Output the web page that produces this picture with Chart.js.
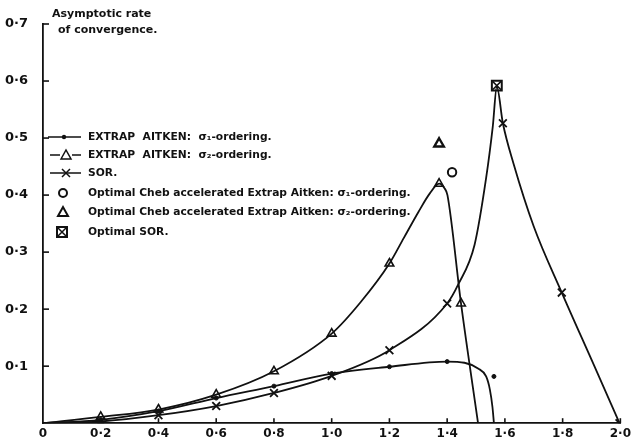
<!DOCTYPE html>
<html>
<head>
<meta charset="utf-8">
<script src="https://cdn.jsdelivr.net/npm/chart.js@4/dist/chart.umd.min.js"></script>
<style>
  html, body { margin: 0; padding: 0; background: #fff; }
  #wrap { width: 634px; height: 446px; position: relative; }
</style>
</head>
<body>
<div id="wrap"><canvas id="c" width="634" height="446"></canvas></div>
<script>
// ---- tick labels ----
const xTickLabels = ['0', '0·2', '0·4', '0·6', '0·8', '1·0', '1·2', '1·4', '1·6', '1·8', '2·0'];
const yTickLabels = ['', '0·1', '0·2', '0·3', '0·4', '0·5', '0·6', '0·7'];

// ---- Extrap Aitken, sigma1-ordering (curve as read, and its marked points) ----
const aitken1CurveX = [0, 0.2, 0.4, 0.6, 0.8, 1.0, 1.2, 1.4, 1.46, 1.507, 1.535, 1.548, 1.557, 1.562];
const aitken1CurveY = [0, 0.006, 0.021, 0.044, 0.065, 0.087, 0.099, 0.108, 0.106, 0.096, 0.082, 0.059, 0.028, 0];
const aitken1MarkX = [0.2, 0.4, 0.6, 0.8, 1.0, 1.2, 1.4];
const aitken1MarkY = [0.006, 0.021, 0.044, 0.065, 0.087, 0.099, 0.108];
const strayDotX = [1.562];
const strayDotY = [0.082];

// ---- Extrap Aitken, sigma2-ordering ----
const aitken2CurveX = [0, 0.2, 0.4, 0.6, 0.8, 1.0, 1.1, 1.2, 1.25, 1.30, 1.34, 1.372, 1.392, 1.401, 1.448, 1.507];
const aitken2CurveY = [0, 0.011, 0.024, 0.050, 0.091, 0.157, 0.212, 0.280, 0.325, 0.370, 0.403, 0.420, 0.411, 0.400, 0.210, 0];
const aitken2MarkX = [0.2, 0.4, 0.6, 0.8, 1.0, 1.2, 1.372, 1.448];
const aitken2MarkY = [0.011, 0.024, 0.050, 0.091, 0.157, 0.280, 0.420, 0.210];

// ---- SOR ----
const sorCurveX = [0, 0.2, 0.4, 0.6, 0.8, 1.0, 1.2, 1.4, 1.438, 1.495, 1.535, 1.558, 1.572, 1.593, 1.63, 1.70, 1.797, 1.91, 1.997];
const sorCurveY = [0, 0.003, 0.014, 0.030, 0.053, 0.083, 0.128, 0.210, 0.243, 0.313, 0.430, 0.520, 0.590, 0.526, 0.455, 0.345, 0.229, 0.100, 0];
const sorMarkX = [0.2, 0.4, 0.6, 0.8, 1.0, 1.2, 1.4, 1.593, 1.797, 1.997];
const sorMarkY = [0.003, 0.014, 0.030, 0.053, 0.083, 0.128, 0.210, 0.526, 0.229, 0];

// ---- optimal points ----
const chebOpt1 = [1.417, 0.440];
const chebOpt2 = [1.372, 0.490];
const sorOpt = [1.572, 0.592];

// ---- legend / title text ----
const titleLines = ['Asymptotic rate', 'of convergence.'];
const legendTexts = [
  'EXTRAP  AITKEN:  σ₁-ordering.',
  'EXTRAP  AITKEN:  σ₂-ordering.',
  'SOR.',
  'Optimal Cheb accelerated Extrap Aitken: σ₁-ordering.',
  'Optimal Cheb accelerated Extrap Aitken: σ₂-ordering.',
  'Optimal SOR.'
];

const pts = (xs, ys) => xs.map((x, i) => ({ x: x, y: ys[i] }));
const INK = '#111';

const curve = (xs, ys) => ({
  data: pts(xs, ys), showLine: true, borderColor: INK, borderWidth: 1.8,
  pointRadius: 0, cubicInterpolationMode: 'monotone', fill: false
});
const marks = (xs, ys, style, r, bw) => ({
  data: pts(xs, ys), showLine: false, pointStyle: style, pointRadius: r,
  pointBorderColor: INK, pointBackgroundColor: style === 'circle' && r < 3 ? INK : 'rgba(0,0,0,0)',
  pointBorderWidth: bw
});

// inward tick marks
const inwardTicks = {
  id: 'inwardTicks',
  afterDatasetsDraw(chart) {
    const ctx = chart.ctx, xs = chart.scales.x, ys = chart.scales.y;
    const a = chart.chartArea;
    ctx.save();
    ctx.strokeStyle = INK; ctx.lineWidth = 1.6;
    ys.ticks.forEach((t, i) => {
      if (i === 0) return;
      const y = ys.getPixelForTick(i);
      ctx.beginPath(); ctx.moveTo(a.left, y); ctx.lineTo(a.left + 6, y); ctx.stroke();
    });
    xs.ticks.forEach((t, i) => {
      if (i === 0) return;
      const x = xs.getPixelForTick(i);
      ctx.beginPath(); ctx.moveTo(x, a.bottom); ctx.lineTo(x, a.bottom - 5); ctx.stroke();
    });
    ctx.restore();
  }
};

// hand-written legend and title
const legendPlugin = {
  id: 'handLegend',
  afterDraw(chart) {
    const ctx = chart.ctx, a = chart.chartArea;
    const L = a.left, T = a.top;
    ctx.save();
    ctx.fillStyle = INK; ctx.strokeStyle = INK;
    ctx.textBaseline = 'middle'; ctx.textAlign = 'left';
    ctx.font = 'bold 11px "DejaVu Sans"';
    ctx.fillText(titleLines[0], L + 9, T - 10);
    ctx.fillText(titleLines[1], L + 15, T + 6);

    const rows = [113, 131, 149, 169, 188, 208];
    const tx = L + 45;
    ctx.font = 'bold 10.7px "DejaVu Sans"';
    rows.forEach((dy, i) => { ctx.fillText(legendTexts[i], tx, T + dy); });

    // legend symbols
    ctx.lineWidth = 1.5;
    const line = (x1, x2, y) => { ctx.beginPath(); ctx.moveTo(x1, y); ctx.lineTo(x2, y); ctx.stroke(); };
    let y = T + rows[0];
    line(L + 5, L + 38, y);
    ctx.beginPath(); ctx.arc(L + 21, y, 2.2, 0, Math.PI * 2); ctx.fill();
    y = T + rows[1];
    line(L + 7, L + 17, y); line(L + 29, L + 38, y);
    ctx.beginPath(); ctx.moveTo(L + 18, y + 4); ctx.lineTo(L + 23, y - 5); ctx.lineTo(L + 28, y + 4); ctx.closePath(); ctx.stroke();
    y = T + rows[2];
    line(L + 7, L + 38, y);
    ctx.beginPath(); ctx.moveTo(L + 19, y - 4); ctx.lineTo(L + 27, y + 4); ctx.moveTo(L + 27, y - 4); ctx.lineTo(L + 19, y + 4); ctx.stroke();
    y = T + rows[3];
    ctx.lineWidth = 2;
    ctx.beginPath(); ctx.arc(L + 20, y, 4, 0, Math.PI * 2); ctx.stroke();
    y = T + rows[4];
    ctx.beginPath(); ctx.moveTo(L + 15, y + 4); ctx.lineTo(L + 20, y - 5); ctx.lineTo(L + 25, y + 4); ctx.closePath(); ctx.stroke();
    y = T + rows[5];
    ctx.strokeRect(L + 14, y - 5, 10, 10);
    ctx.lineWidth = 1.5;
    ctx.beginPath(); ctx.moveTo(L + 15, y - 4); ctx.lineTo(L + 23, y + 4); ctx.moveTo(L + 23, y - 4); ctx.lineTo(L + 15, y + 4); ctx.stroke();
    ctx.restore();
  }
};

new Chart(document.getElementById('c'), {
  type: 'scatter',
  data: {
    datasets: [
      curve(aitken1CurveX, aitken1CurveY),
      curve(aitken2CurveX, aitken2CurveY),
      curve(sorCurveX, sorCurveY),
      marks(aitken1MarkX, aitken1MarkY, 'circle', 2, 1),
      marks(strayDotX, strayDotY, 'circle', 2, 1),
      marks(aitken2MarkX, aitken2MarkY, 'triangle', 5, 1.6),
      marks(sorMarkX, sorMarkY, 'crossRot', 5.5, 1.8),
      marks([chebOpt1[0]], [chebOpt1[1]], 'circle', 4.2, 2),
      marks([chebOpt2[0]], [chebOpt2[1]], 'triangle', 5.5, 2.4),
      marks([sorOpt[0]], [sorOpt[1]], 'rect', 7, 2),
      marks([sorOpt[0]], [sorOpt[1]], 'crossRot', 6, 1.5)
    ]
  },
  options: {
    responsive: false,
    animation: false,
    devicePixelRatio: 1,
    layout: { padding: { top: 24, right: 11, left: 0, bottom: 0 } },
    plugins: { legend: { display: false }, tooltip: { enabled: false }, title: { display: false } },
    scales: {
      x: {
        type: 'linear', min: 0, max: 2.0,
        afterFit: s => { s.height = 19; },
        grid: { display: false, drawTicks: false },
        border: { display: true, color: INK, width: 1.8 },
        ticks: {
          stepSize: 0.2, padding: 3, color: INK, maxRotation: 0, autoSkip: false,
          font: { family: 'DejaVu Sans', size: 12, weight: 'bold' },
          callback: (v, i) => xTickLabels[i]
        }
      },
      y: {
        type: 'linear', min: 0, max: 0.7,
        afterFit: s => { s.width = 43; },
        grid: { display: false, drawTicks: false },
        border: { display: true, color: INK, width: 1.8 },
        ticks: {
          stepSize: 0.1, padding: 15, color: INK, autoSkip: false,
          font: { family: 'DejaVu Sans', size: 13, weight: 'bold' },
          callback: (v, i) => yTickLabels[i]
        }
      }
    }
  },
  plugins: [inwardTicks, legendPlugin]
});
</script>
</body>
</html>
